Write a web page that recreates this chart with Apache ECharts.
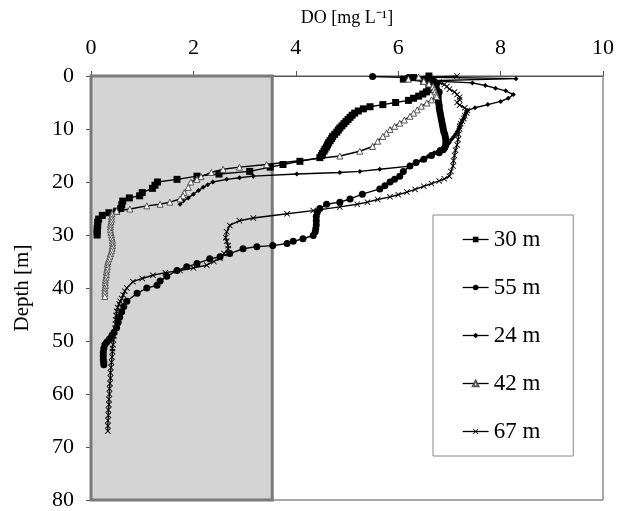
<!DOCTYPE html>
<html>
<head>
<meta charset="utf-8">
<script src="https://cdn.jsdelivr.net/npm/echarts@6/dist/echarts.min.js"></script>
<style>
  html, body { margin: 0; padding: 0; background: #fff; }
  #chart { width: 624px; height: 511px; }
</style>
</head>
<body>
<div id="chart"></div>
<script>
// ---- Data (DO in mg/L vs depth in m) ----
var seriesNames = ['30 m', '55 m', '24 m', '42 m', '67 m'];
var xTicks = [0, 2, 4, 6, 8, 10];
var yTicks = [0, 10, 20, 30, 40, 50, 60, 70, 80];
var shadedDOmax = 3.54;

var depth30 = [0, 0.3, 0.6, 1.0, 1.4, 1.8, 2.2, 2.6, 3.0, 3.4, 3.8, 4.2, 4.6, 5.0, 5.4, 5.8, 6.2, 6.6, 7.0, 7.4, 7.8, 8.2, 8.6, 9.0, 9.4, 9.8, 10.2, 10.6, 11.0, 11.4, 11.8, 12.2, 12.6, 13.0, 13.4, 13.8, 14.2, 14.6, 15.0, 15.4, 16.1, 16.7, 17.2, 18.0, 18.5, 18.9, 19.5, 20.0, 20.6, 21.2, 22.0, 22.6, 23.0, 23.6, 24.3, 25.0, 25.5, 25.8, 26.3, 27.0, 27.6, 28.2, 28.8, 29.4, 30.0];
var do30 = [6.6, 6.3, 6.1, 6.5, 6.7, 6.65, 6.6, 6.62, 6.55, 6.48, 6.4, 6.3, 6.2, 5.95, 5.7, 5.45, 5.32, 5.22, 5.15, 5.1, 5.06, 5.02, 4.98, 4.94, 4.9, 4.86, 4.83, 4.8, 4.76, 4.72, 4.7, 4.67, 4.64, 4.62, 4.6, 4.57, 4.55, 4.52, 4.5, 4.47, 4.08, 3.75, 3.5, 3.1, 2.5, 2.07, 1.68, 1.3, 1.25, 1.2, 1.0, 0.95, 0.75, 0.62, 0.6, 0.58, 0.5, 0.35, 0.22, 0.15, 0.13, 0.13, 0.12, 0.12, 0.12];

var depth55 = [0.1, 0.3, 0.6, 1.0, 1.5, 2.0, 2.5, 3.0, 3.5, 4.0, 4.5, 5.0, 5.5, 6.0, 6.5, 7.0, 7.5, 8.0, 8.5, 9.0, 9.5, 10.0, 10.5, 11.0, 11.5, 12.0, 12.5, 13.0, 13.5, 13.9, 14.5, 15.0, 15.7, 16.3, 17.0, 18.0, 18.9, 19.5, 20.0, 20.7, 21.3, 22.3, 23.2, 23.8, 24.2, 25.0, 25.7, 26.5, 27.3, 28.1, 28.8, 29.4, 30.1, 30.7, 31.2, 31.6, 32.0, 32.2, 32.6, 33.5, 34.1, 34.5, 35.4, 36.0, 36.7, 37.8, 38.7, 39.5, 40.0, 41.0, 42.5, 43.5, 44.5, 45.5, 46.5, 47.5, 48.4, 48.9, 49.6, 50.2, 50.7, 51.4, 52.1, 52.8, 53.5, 54.0, 54.5];
var do55 = [5.5, 6.2, 6.5, 6.7, 6.75, 6.7, 6.75, 6.8, 6.78, 6.78, 6.78, 6.79, 6.8, 6.8, 6.81, 6.82, 6.83, 6.84, 6.85, 6.86, 6.87, 6.88, 6.89, 6.91, 6.92, 6.93, 6.93, 6.93, 6.91, 6.88, 6.8, 6.65, 6.5, 6.35, 6.23, 6.1, 6.03, 5.93, 5.84, 5.74, 5.64, 5.3, 5.06, 4.86, 4.6, 4.47, 4.42, 4.4, 4.4, 4.4, 4.39, 4.38, 4.34, 4.14, 3.95, 3.83, 3.55, 3.24, 2.97, 2.71, 2.52, 2.32, 2.07, 1.87, 1.68, 1.48, 1.35, 1.29, 1.09, 0.9, 0.7, 0.64, 0.6, 0.56, 0.53, 0.5, 0.45, 0.41, 0.36, 0.31, 0.27, 0.25, 0.24, 0.24, 0.24, 0.25, 0.25];

var depth24 = [0.2, 0.5, 0.9, 1.3, 1.8, 2.3, 2.8, 3.5, 4.2, 4.8, 5.4, 6.0, 6.5, 7.0, 7.5, 8.0, 8.5, 9.0, 9.5, 10.0, 10.5, 11.0, 11.5, 12.0, 12.6, 13.2, 13.8, 14.5, 15.2, 15.9, 16.5, 17.0, 17.6, 18.0, 18.2, 18.5, 18.9, 19.2, 19.5, 20.0, 20.5, 21.0, 21.6, 22.3, 23.0, 23.6, 24.2];
var do24 = [6.3, 8.3, 6.6, 7.45, 7.7, 7.9, 8.1, 8.25, 8.15, 8.0, 7.75, 7.5, 7.35, 7.32, 7.3, 7.28, 7.25, 7.22, 7.2, 7.18, 7.15, 7.12, 7.08, 7.04, 7.0, 6.9, 6.8, 6.7, 6.58, 6.45, 6.32, 6.23, 5.64, 5.25, 4.86, 4.02, 3.17, 2.9, 2.65, 2.38, 2.28, 2.19, 2.1, 2.0, 1.9, 1.8, 1.74];

var depth42 = [0.2, 0.6, 1.0, 1.5, 2.0, 2.5, 3.0, 3.5, 3.9, 4.5, 5.1, 5.7, 6.4, 7.0, 7.6, 8.3, 8.9, 9.5, 10.1, 10.8, 11.4, 12.3, 13.3, 14.2, 15.1, 16.7, 17.2, 17.6, 18.2, 19.0, 19.5, 20.0, 21.0, 22.0, 22.6, 23.2, 23.8, 24.2, 24.5, 25.1, 25.5, 26.0, 26.5, 27.0, 27.5, 28.0, 28.5, 29.0, 29.5, 30.0, 30.5, 31.0, 31.5, 32.0, 32.5, 33.0, 33.5, 34.0, 34.5, 35.0, 35.5, 36.0, 36.5, 37.0, 37.5, 38.0, 38.5, 39.0, 39.5, 40.0, 40.5, 41.0, 41.6];
var do42 = [6.4, 6.2, 6.5, 6.6, 6.68, 6.7, 6.72, 6.74, 6.75, 6.65, 6.56, 6.45, 6.37, 6.3, 6.23, 6.12, 6.03, 5.93, 5.84, 5.77, 5.7, 5.6, 5.5, 5.25, 4.86, 3.43, 2.9, 2.58, 2.35, 2.15, 2.07, 1.95, 1.9, 1.82, 1.8, 1.74, 1.54, 1.35, 1.09, 0.76, 0.5, 0.41, 0.4, 0.4, 0.39, 0.38, 0.38, 0.38, 0.39, 0.4, 0.41, 0.42, 0.42, 0.42, 0.41, 0.4, 0.38, 0.37, 0.35, 0.33, 0.32, 0.32, 0.31, 0.3, 0.3, 0.29, 0.28, 0.28, 0.28, 0.27, 0.27, 0.27, 0.27];

var depth67 = [0.0, 0.4, 0.8, 1.2, 1.6, 2.0, 2.5, 3.0, 3.5, 4.0, 4.5, 5.0, 5.5, 6.0, 6.5, 7.0, 7.5, 8.0, 8.5, 9.0, 9.5, 10.0, 11.0, 12.0, 13.0, 14.0, 15.0, 16.0, 17.0, 18.0, 18.9, 19.4, 19.8, 20.3, 20.8, 21.4, 21.9, 22.4, 22.8, 23.3, 23.8, 24.2, 24.7, 25.4, 26.0, 26.8, 27.3, 28.2, 29.4, 30.5, 31.2, 32.0, 32.6, 33.5, 34.4, 35.0, 35.7, 36.2, 36.7, 37.1, 37.6, 38.2, 38.8, 40.0, 40.6, 41.3, 42.0, 42.5, 43.0, 43.7, 44.4, 45.2, 46.0, 46.8, 47.6, 48.3, 49.0, 49.8, 50.7, 51.4, 52.0, 53.0, 54.0, 55.0, 56.0, 57.0, 58.0, 59.0, 60.0, 61.0, 62.0, 63.0, 64.0, 65.0, 66.0, 67.0];
var do67 = [7.15, 6.3, 6.6, 6.8, 6.9, 6.95, 7.0, 7.1, 7.15, 7.2, 7.2, 7.15, 7.2, 7.3, 7.35, 7.34, 7.3, 7.28, 7.25, 7.22, 7.2, 7.2, 7.18, 7.17, 7.15, 7.12, 7.1, 7.08, 7.07, 7.03, 7.0, 6.9, 6.8, 6.65, 6.5, 6.33, 6.17, 6.0, 5.84, 5.6, 5.4, 5.2, 4.86, 4.34, 3.83, 3.17, 2.9, 2.71, 2.65, 2.63, 2.65, 2.68, 2.68, 2.6, 2.52, 2.4, 2.26, 2.0, 1.74, 1.45, 1.21, 1.0, 0.82, 0.7, 0.66, 0.63, 0.6, 0.57, 0.55, 0.52, 0.5, 0.49, 0.48, 0.48, 0.47, 0.46, 0.45, 0.44, 0.43, 0.42, 0.42, 0.41, 0.4, 0.39, 0.38, 0.38, 0.37, 0.36, 0.36, 0.35, 0.35, 0.34, 0.34, 0.33, 0.33, 0.33];

function zip(dox, dep) {
  var out = [];
  for (var i = 0; i < dox.length; i++) out.push([dox[i], dep[i]]);
  return out;
}

var FONT = '"Liberation Serif", "Times New Roman", serif';
var crossPath = 'path://M0,1L1,0L5,4L9,0L10,1L6,5L10,9L9,10L5,6L1,10L0,9L4,5Z';

var chart = echarts.init(document.getElementById('chart'), null, { renderer: 'canvas' });

function lineSeries(name, data, symbol, size, itemStyle) {
  return {
    name: name,
    type: 'line',
    data: data,
    symbol: symbol,
    symbolSize: size,
    showAllSymbol: true,
    z: 3,
    lineStyle: { color: '#000', width: 1.4 },
    itemStyle: itemStyle,
    emphasis: { disabled: true },
    animation: false
  };
}

chart.setOption({
  animation: false,
  backgroundColor: '#fff',
  grid: {
    left: 91, top: 76, right: 21, bottom: 8,
    show: true, borderColor: '#555', borderWidth: 1, backgroundColor: 'transparent'
  },
  xAxis: {
    type: 'value',
    position: 'top',
    min: xTicks[0], max: xTicks[xTicks.length - 1], interval: 2,
    name: 'DO [mg L\u207B\u00B9]',
    nameLocation: 'middle',
    nameGap: 49,
    nameTextStyle: { fontFamily: FONT, fontSize: 18, color: '#000' },
    axisLine: { show: true, lineStyle: { color: '#555', width: 1 } },
    axisTick: { show: true, length: 5, lineStyle: { color: '#555' } },
    axisLabel: { fontFamily: FONT, fontSize: 22, color: '#000', margin: 17 },
    splitLine: { show: false }
  },
  yAxis: {
    type: 'value',
    inverse: true,
    min: yTicks[0], max: yTicks[yTicks.length - 1], interval: 10,
    name: 'Depth [m]',
    nameLocation: 'middle',
    nameGap: 58,
    nameRotate: 90,
    nameTextStyle: { fontFamily: FONT, fontSize: 21, color: '#000' },
    axisLine: { show: true, lineStyle: { color: '#555', width: 1 } },
    axisTick: { show: true, length: 5, lineStyle: { color: '#555' } },
    axisLabel: { fontFamily: FONT, fontSize: 22, color: '#000', margin: 17 },
    splitLine: { show: false }
  },
  legend: {
    orient: 'vertical',
    left: 433, top: 215,
    padding: [13, 33, 13, 29],
    itemGap: 25,
    itemWidth: 26,
    itemHeight: 7,
    backgroundColor: '#fff',
    borderColor: '#888',
    borderWidth: 1,
    lineStyle: { width: 1.3, color: '#000' },
    textStyle: { fontFamily: FONT, fontSize: 23, color: '#000' },
    data: seriesNames
  },
  series: [
    {
      name: 'shade',
      type: 'line',
      data: [],
      z: 1,
      silent: true,
      markArea: {
        silent: true,
        itemStyle: { color: '#d4d4d4', borderColor: '#7a7a7a', borderWidth: 3 },
        data: [[{ xAxis: 0, yAxis: yTicks[0] }, { xAxis: shadedDOmax, yAxis: yTicks[yTicks.length - 1] }]]
      }
    },
    lineSeries(seriesNames[0], zip(do30, depth30), 'rect', 7, { color: '#000' }),
    lineSeries(seriesNames[1], zip(do55, depth55), 'circle', 7, { color: '#000' }),
    lineSeries(seriesNames[2], zip(do24, depth24), 'diamond', 5, { color: '#000' }),
    lineSeries(seriesNames[3], zip(do42, depth42), 'triangle', 6, { color: '#fff', borderColor: '#555', borderWidth: 1 }),
    lineSeries(seriesNames[4], zip(do67, depth67), crossPath, 6, { color: '#000' })
  ]
});
</script>
</body>
</html>
